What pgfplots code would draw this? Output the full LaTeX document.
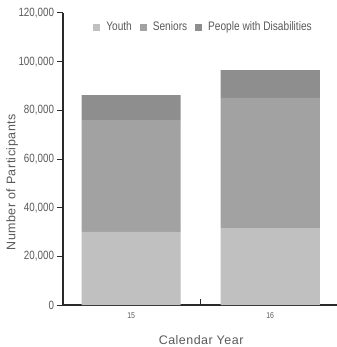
\documentclass[border=0pt]{standalone}
\usepackage{pgfplots}
\pgfplotsset{compat=1.18}
\usepackage{fontspec}
\setmainfont{Liberation Sans}
\newfontfamily\condensed{Liberation Sans}[FakeStretch=0.82]
\newfontfamily\spaced{Liberation Sans}[LetterSpace=4]
\definecolor{youth}{HTML}{C0C0C0}
\definecolor{seniors}{HTML}{A2A2A2}
\definecolor{disab}{HTML}{8E8E8E}
\definecolor{txt}{HTML}{5A5A5A}
\definecolor{axline}{HTML}{2A2A2A}
\begin{document}
\begin{tikzpicture}
\useasboundingbox[fill=white] (-63bp,-42bp) rectangle (274bp,305bp);
\begin{axis}[
  scale only axis,
  width=274bp, height=292bp,
  xmin=-0.49, xmax=1.48,
  ymin=0, ymax=120000,
  ybar stacked, bar width=0.712,
  axis x line*=bottom, axis y line*=left,
  axis line style={axline, line width=1.2pt, -},
  xtick={0,0.5,1,1.5}, xticklabels={15,,16,},
  x tick style={draw=axline, line width=0.8pt},
  x tick label style={font=\condensed\fontsize{8.5}{9}\selectfont, text=txt, yshift=-4bp},
  ytick={0,20000,40000,60000,80000,100000,120000},
  yticklabels={0,{20,000},{40,000},{60,000},{80,000},{100,000},{120,000}},
  scaled y ticks=false,
  y tick label style={font=\condensed\fontsize{12}{12}\selectfont, text=txt},
  y tick style={draw=axline, line width=1pt},
  tick align=outside, major tick length=5.5bp,
  xtick align=inside,
  xlabel={Calendar Year},
  xlabel style={font=\spaced\fontsize{12.5}{13}\selectfont, text=txt, at={(axis description cs:0.504,-0.12)}, anchor=center},
  ylabel={Number of Participants},
  ylabel style={font=\spaced\fontsize{12.5}{13}\selectfont, text=txt, at={(axis description cs:-0.186,0.42)}, anchor=center},
  legend style={draw=none, fill=none, at={(axis description cs:0.513,0.952)}, anchor=center,
    font=\condensed\fontsize{12.4}{13}\selectfont, text=txt, legend columns=-1,
    /tikz/every even column/.append style={column sep=6bp},
    /tikz/every odd column/.append style={column sep=4bp}},
  legend image code/.code={\fill[#1] (0bp,-3.5bp) rectangle (7bp,3.5bp);},
  clip=false,
]
\addplot[fill=youth, draw=none] coordinates {(0,30100) (1,31600)};
\addplot[fill=seniors, draw=none] coordinates {(0,45900) (1,53400)};
\addplot[fill=disab, draw=none] coordinates {(0,10200) (1,11500)};
\legend{Youth,Seniors,People with Disabilities}
\end{axis}
\end{tikzpicture}
\end{document}
